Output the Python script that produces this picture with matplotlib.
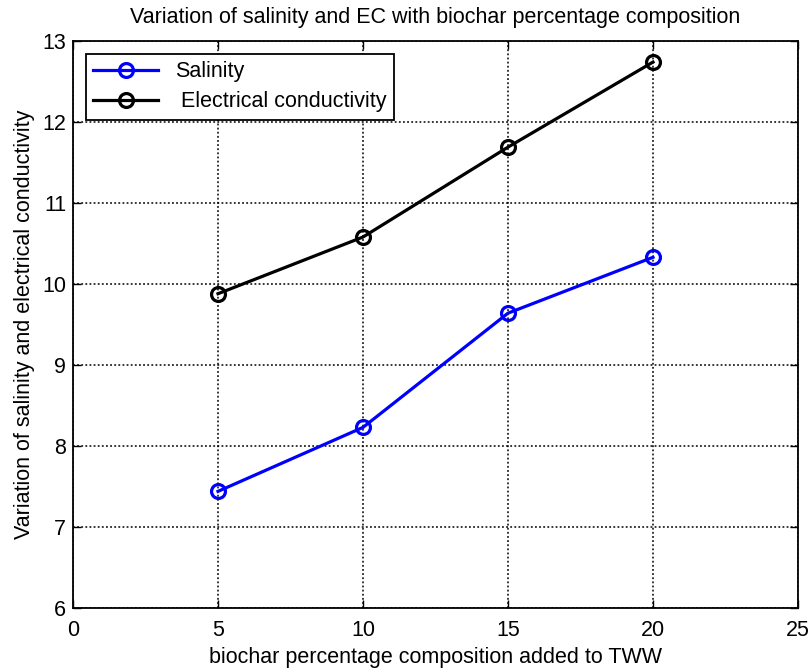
import matplotlib
matplotlib.use("Agg")
import matplotlib.pyplot as plt

x = [5, 10, 15, 20]
salinity = [7.44, 8.23, 9.64, 10.33]
ec = [9.88, 10.58, 11.69, 12.74]
xticks = [0, 5, 10, 15, 20, 25]
yticks = [6, 7, 8, 9, 10, 11, 12, 13]

plt.rcParams['font.family'] = ['Liberation Sans', 'DejaVu Sans']
fig = plt.figure(figsize=(8.11, 6.71), dpi=100)
ax = fig.add_axes([73/811, 1 - 608/671, (798-73)/811, (608-41)/671])

ax.plot(x, salinity, color='#0000ff', lw=2.3, marker='o', ms=10, mfc='none', mew=2.3, label='Salinity')
ax.plot(x, ec, color='black', lw=2.3, marker='o', ms=10, mfc='none', mew=2.3, label=' Electrical conductivity')

ax.set_xlim(0, 25)
ax.set_ylim(6, 13)
ax.set_xticks(xticks)
ax.set_yticks(yticks)
ax.grid(True, color='black', linestyle=(0, (1.2, 1.5)), linewidth=1.1)
ax.tick_params(direction='in', top=True, right=True, labelsize=15.5, length=6, width=1, pad=5)
ax.tick_params(axis='x', pad=9)
for s in ax.spines.values():
    s.set_linewidth(1.3)

ax.set_xlabel('biochar percentage composition added to TWW', fontsize=15.5, labelpad=4)
ax.set_ylabel('Variation of salinity and electrical conductivity', fontsize=15.5, labelpad=5)
ax.set_title('Variation of salinity and EC with biochar percentage composition', fontsize=15.5, pad=13)

leg = ax.legend(loc='upper left', fontsize=15.5, fancybox=False, edgecolor='black', framealpha=1,
                borderaxespad=0.6, handlelength=3, labelspacing=0.4, borderpad=0.35)
leg.get_frame().set_linewidth(1.3)

fig.savefig('out.png', dpi=100)
